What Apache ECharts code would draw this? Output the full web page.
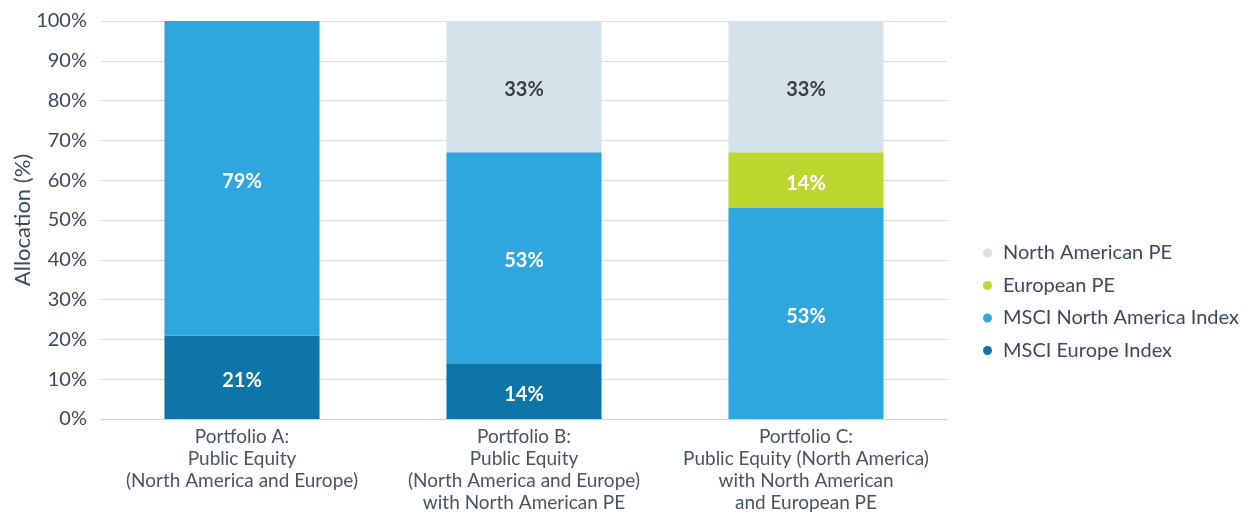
<!DOCTYPE html>
<html><head><meta charset="utf-8">
<script src="https://cdn.jsdelivr.net/npm/echarts@6/dist/echarts.min.js"></script>
<style>html,body{margin:0;padding:0;background:#fff}#c{width:1251px;height:512px}</style>
</head><body><div id="c"></div>
<script>
const categories = [
  "Portfolio A:\nPublic Equity\n(North America and Europe)",
  "Portfolio B:\nPublic Equity\n(North America and Europe)\nwith North American PE",
  "Portfolio C:\nPublic Equity (North America)\nwith North American\nand European PE"
];
const msciEurope = [21, 14, 0];
const msciNorthAmerica = [79, 53, 53];
const europeanPE = [0, 0, 14];
const northAmericanPE = [0, 33, 33];
const yTicks = [0, 10, 20, 30, 40, 50, 60, 70, 80, 90, 100];

const font = 'Lato';
function mk(name, data, color, labelColor) {
  return {
    name, type: 'bar', stack: 'total', data, barWidth: '55%',
    itemStyle: { color },
    label: {
      show: true, position: 'inside', offset: [0, 3], color: labelColor, fontFamily: font,
      fontWeight: 'bold', fontSize: 20,
      formatter: p => p.value > 0 ? p.value + '%' : ''
    }
  };
}
const chart = echarts.init(document.getElementById('c'));
chart.setOption({
  animation: false,
  grid: { left: 101, right: 304, top: 21, bottom: 93, containLabel: false, outerBoundsMode: 'none' },
  legend: {
    orient: 'vertical', left: 978, top: 238, itemGap: 12.5,
    icon: 'circle', itemWidth: 9, itemHeight: 9,
    textStyle: { fontFamily: font, fontSize: 20, color: '#3d4a55', padding: [0, 0, 0, 6] },
    data: ['North American PE', 'European PE', 'MSCI North America Index', 'MSCI Europe Index']
  },
  xAxis: {
    type: 'category', data: categories,
    axisLine: { lineStyle: { color: '#cfd6da' } }, axisTick: { show: false },
    axisLabel: { fontFamily: font, fontSize: 19, color: '#4a545c', lineHeight: 22, margin: 7, interval: 0 }
  },
  yAxis: {
    type: 'value', min: yTicks[0], max: yTicks[yTicks.length - 1], interval: 10,
    name: 'Allocation (%)', nameLocation: 'middle', nameGap: 67, nameMoveOverlap: false,
    nameTextStyle: { fontFamily: font, fontSize: 22, color: '#3d4a55' },
    axisLabel: { formatter: '{value}%', fontFamily: font, fontSize: 20, color: '#3d4a55', margin: 14 },
    splitLine: { lineStyle: { color: '#dcdcdc' } }
  },
  series: [
    mk('MSCI Europe Index', msciEurope, '#0e75a8', '#fff'),
    mk('MSCI North America Index', msciNorthAmerica, '#2fa7de', '#fff'),
    mk('European PE', europeanPE, '#bed630', '#fff'),
    mk('North American PE', northAmericanPE, '#d6e2ea', '#3a3f44')
  ]
});
</script></body></html>
